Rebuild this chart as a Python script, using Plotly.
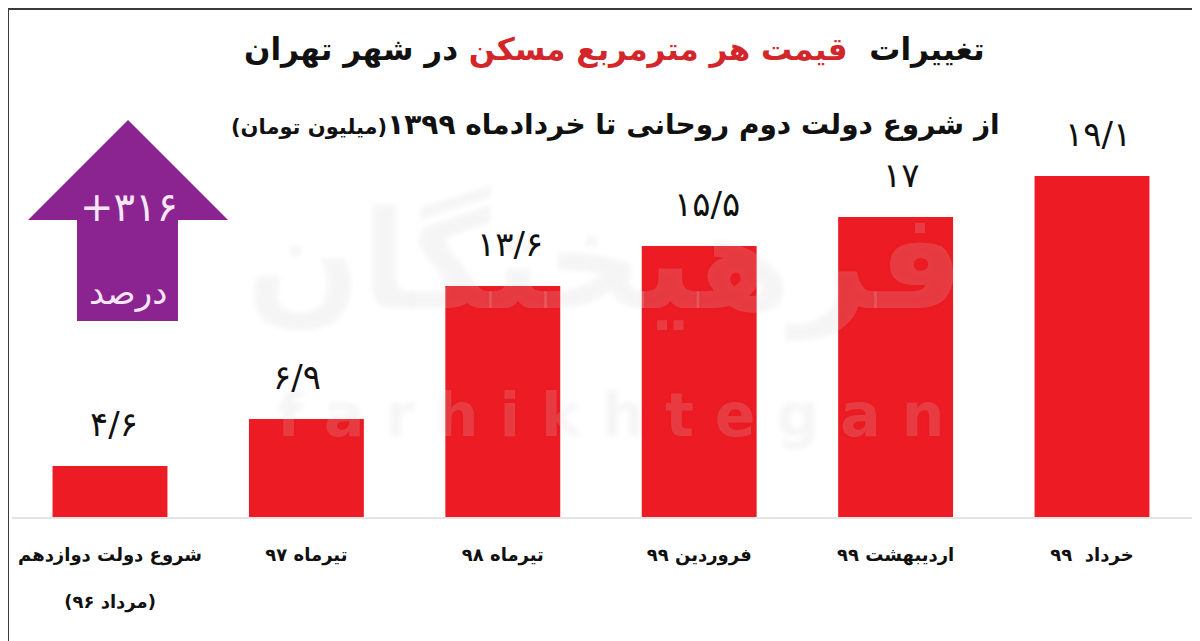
import plotly.graph_objects as go

# bar heights as drawn in the picture (the two small bars are drawn shorter than their labels say)
categories = ['شروع دولت دوازدهم', 'تیرماه ۹۷', 'تیرماه ۹۸', 'فروردین ۹۹', 'اردیبهشت ۹۹', 'خرداد  ۹۹']
category_notes = ['(مرداد ۹۶)', '', '', '', '', '']
bar_heights = [2.86, 5.49, 12.94, 15.18, 16.8, 19.1]
value_labels = ['۴/۶', '۶/۹', '۱۳/۶', '۱۵/۵', '۱۷', '۱۹/۱']

RLM = '\u200f'
# the page puts the figure 8px in from the top left corner
OFFSET = 8
W, H = 1200 - OFFSET, 641 - OFFSET
BASE_Y = 517
FONT = 'DejaVu Sans'
# the labels are not quite centred on their bars in the original
LABEL_XSHIFT = [4, -9, 7, 8, 6, 6]

def px_x(x):
    return (x - OFFSET) / W

def px_y(y):
    return (BASE_Y - y) / (BASE_Y - OFFSET)

def page_text(x, y, text, font):
    return dict(x=px_x(x), y=px_y(y), xref='paper', yref='paper', text=text, showarrow=False,
                xanchor='center', yanchor='middle', font=font)

fig = go.Figure()
xs = list(range(len(categories)))

fig.add_trace(go.Bar(x=xs, y=bar_heights, width=0.585, marker_color='#ED1C24', marker_line_width=0, hoverinfo='skip'))

ticktext = []
for name, note in zip(categories, category_notes):
    if note:
        ticktext.append(RLM + name + RLM + '<br> <br>' + RLM + note + RLM)
    else:
        ticktext.append(RLM + name + RLM)

fig.update_xaxes(range=[-(110 - OFFSET) / 196.4, (1200 - 110) / 196.4], tickmode='array', tickvals=xs, ticktext=ticktext,
                 tickfont=dict(family=FONT, size=18, color='#111111', weight='bold'),
                 showgrid=False, zeroline=False, showline=False,
                 ticks='', tickangle=0, ticklabelstandoff=25)
fig.update_yaxes(range=[0, (BASE_Y - OFFSET) / 17.85], visible=False)

annotations = []

# watermark
watermark_font = dict(family=FONT, color='rgba(255,255,255,0.14)', weight='bold', shadow='0px 0px 5px rgba(0,0,0,0.3)')
annotations.append(page_text(605, 262, 'فرهیختگان', dict(watermark_font, size=135)))
annotations.append(page_text(610, 415, 'f a r h i k h t e g a n', dict(watermark_font, size=60)))

# value labels sit a fixed distance above each bar
for x, h, lab, shift in zip(xs, bar_heights, value_labels, LABEL_XSHIFT):
    annotations.append(dict(x=x, y=h, xref='x', yref='y', text=lab, showarrow=False, xanchor='center', yanchor='bottom',
                            yshift=20, xshift=shift, font=dict(family=FONT, size=34, color='#111111')))

# title lines
annotations.append(page_text(614, 50, RLM + 'تغییرات  <span style="color:#D3262B">قیمت هر مترمربع مسکن</span> در شهر تهران' + RLM,
                             dict(family=FONT, size=31, color='#111111', weight='bold')))
annotations.append(page_text(615, 125, RLM + 'از شروع دولت دوم روحانی تا خردادماه ۱۳۹۹<span style="font-size:21px">(میلیون تومان)</span>' + RLM,
                             dict(family=FONT, size=28, color='#111111', weight='bold')))

# arrow labels
annotations.append(page_text(129, 207, '+۳۱۶', dict(family=FONT, size=40, color='#F6E6F6')))
annotations.append(page_text(128, 292, RLM + 'درصد' + RLM, dict(family=FONT, size=34, color='#F6E6F6')))

arrow_pts = [(128, 120), (228, 220), (178, 220), (178, 321), (77, 321), (77, 220), (28, 220)]
arrow_path = 'M ' + ' L '.join(f'{px_x(a):.4f} {px_y(b):.4f}' for a, b in arrow_pts) + ' Z'

shapes = [
    dict(type='path', path=arrow_path, xref='paper', yref='paper', fillcolor='#8B2391', line=dict(width=0)),
    # baseline
    dict(type='line', xref='paper', yref='paper', x0=px_x(12), x1=px_x(1192), y0=px_y(518), y1=px_y(518),
         line=dict(color='#E4E4E4', width=2), layer='below'),
    # frame, top and left only
    dict(type='line', xref='paper', yref='paper', x0=px_x(8), x1=1, y0=px_y(9), y1=px_y(9), line=dict(color='#3A3A3A', width=2)),
    dict(type='line', xref='paper', yref='paper', x0=px_x(8), x1=px_x(8), y0=px_y(9), y1=px_y(641), line=dict(color='#3A3A3A', width=2)),
]

fig.update_layout(width=W, height=H, margin=dict(l=0, r=0, t=0, b=H - (BASE_Y - OFFSET)), autosize=False,
                  paper_bgcolor='white', plot_bgcolor='white', showlegend=False,
                  annotations=annotations, shapes=shapes)

fig.write_html('out.html')
